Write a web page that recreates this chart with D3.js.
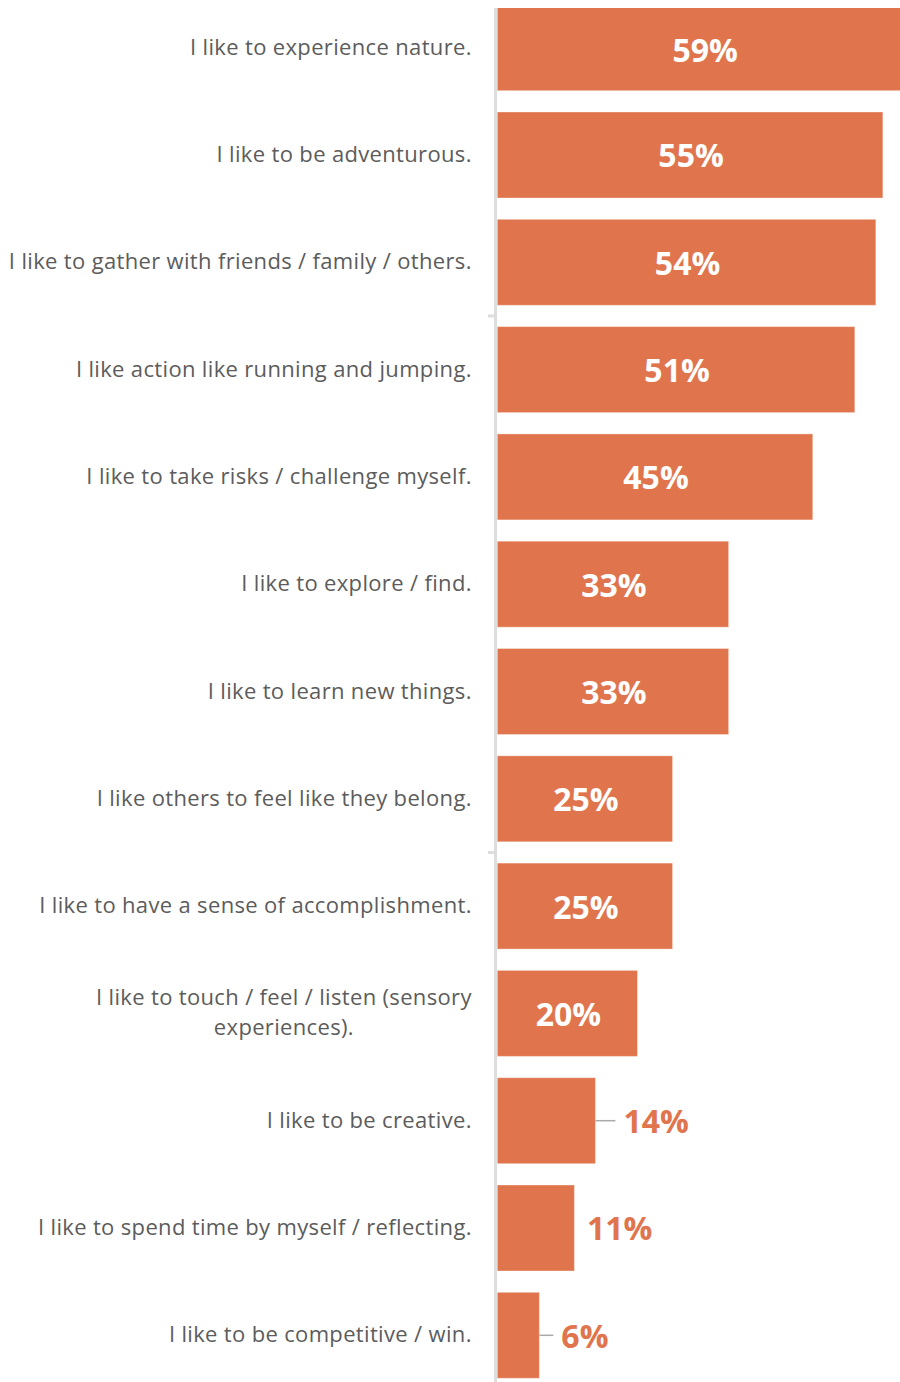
<!DOCTYPE html>
<html>
<head>
<meta charset="utf-8">
<script src="https://cdn.jsdelivr.net/npm/d3@7"></script>
<style>
html,body{margin:0;padding:0;background:#fff;overflow:hidden;}
svg{display:block;}
</style>
</head>
<body>
<svg id="chart" width="900" height="1382"></svg>
<script>
const categories = [
  "I like to experience nature.",
  "I like to be adventurous.",
  "I like to gather with friends / family / others.",
  "I like action like running and jumping.",
  "I like to take risks / challenge myself.",
  "I like to explore / find.",
  "I like to learn new things.",
  "I like others to feel like they belong.",
  "I like to have a sense of accomplishment.",
  "I like to touch / feel / listen (sensory|experiences).",
  "I like to be creative.",
  "I like to spend time by myself / reflecting.",
  "I like to be competitive / win."
];
const values = [59, 55, 54, 51, 45, 33, 33, 25, 25, 20, 14, 11, 6];
const valueLabels = ["59%","55%","54%","51%","45%","33%","33%","25%","25%","20%","14%","11%","6%"];

const W = 900, H = 1382;
const svg = d3.select("#chart");
const barColor = "#E0754D";
const font = "'Open Sans', 'Noto Sans', sans-serif";

// layout constants for outside labels (leader length, text gap) by row index
const outsideLayout = {10: {lead: 20, gap: 28}, 11: {lead: 0, gap: 12.5}, 12: {lead: 14, gap: 22}};

const x = d3.scaleLinear().domain([0, 100]).range([497.3, 1198.3]);
const y = d3.scaleBand().domain(categories).range([4.7, 1378.3]).paddingInner(0.1985).paddingOuter(0);

svg.append("defs").append("clipPath").attr("id", "plotclip")
  .append("rect").attr("x", 0).attr("y", 8).attr("width", W).attr("height", H - 8);

// axis line
svg.append("line")
  .attr("x1", 495.5).attr("x2", 495.5)
  .attr("y1", 8).attr("y2", H)
  .attr("stroke", "#dddddd").attr("stroke-width", 3);

// small ticks between groups
[2, 7].forEach(i => {
  const yy = (y(categories[i]) + y.bandwidth() + y(categories[i+1])) / 2;
  svg.append("line")
    .attr("x1", 488).attr("x2", 495)
    .attr("y1", yy).attr("y2", yy)
    .attr("stroke", "#dddddd").attr("stroke-width", 3);
});

const g = svg.append("g").attr("clip-path", "url(#plotclip)");
g.selectAll("rect.bar").data(categories).join("rect")
  .attr("class", "bar")
  .attr("x", x(0))
  .attr("y", d => y(d))
  .attr("width", (d, i) => x(values[i]) - x(0))
  .attr("height", y.bandwidth())
  .attr("fill", barColor)
  .attr("stroke", "rgba(255,255,255,0.35)")
  .attr("stroke-width", 1);

// value labels
categories.forEach((c, i) => {
  const top = Math.max(y(c), 8);
  const cy = (top + y(c) + y.bandwidth()) / 2;
  const v = values[i];
  if (v >= 20) {
    svg.append("text")
      .attr("x", (x(0) + x(v)) / 2 + 1)
      .attr("y", cy)
      .attr("dy", "0.39em")
      .attr("text-anchor", "middle")
      .attr("font-family", font)
      .attr("font-weight", 700)
      .attr("font-size", 32)
      .attr("fill", "#ffffff")
      .text(valueLabels[i]);
  } else {
    const lay = outsideLayout[i] || {lead: 20, gap: 28};
    if (lay.lead > 0) {
      svg.append("line")
        .attr("x1", x(v)).attr("x2", x(v) + lay.lead)
        .attr("y1", cy).attr("y2", cy)
        .attr("stroke", "#aaaaaa").attr("stroke-width", 1.5);
    }
    svg.append("text")
      .attr("x", x(v) + lay.gap)
      .attr("y", cy)
      .attr("dy", "0.39em")
      .attr("text-anchor", "start")
      .attr("font-family", font)
      .attr("font-weight", 700)
      .attr("font-size", 32)
      .attr("fill", barColor)
      .text(valueLabels[i]);
  }
});

// category labels
const labelSize = 22, labelLS = 0.34, labelX = 471.8;
categories.forEach((c, i) => {
  const cy = y(c) + y.bandwidth() / 2;
  const lines = c.split("|");
  const t = svg.append("text")
    .attr("font-family", font)
    .attr("font-size", labelSize)
    .attr("letter-spacing", labelLS)
    .attr("fill", "#5c5c5c");
  if (lines.length === 1) {
    t.attr("x", labelX).attr("y", cy + 7)
      .attr("text-anchor", "end").text(c);
  } else {
    const tmp = svg.append("text").attr("font-family", font).attr("font-size", labelSize)
      .attr("letter-spacing", labelLS).text(lines[0]);
    const w = tmp.node().getComputedTextLength();
    tmp.remove();
    const cx = labelX - w / 2;
    const lh = 30;
    t.attr("text-anchor", "middle");
    lines.forEach((ln, k) => {
      t.append("tspan")
        .attr("x", cx)
        .attr("y", cy + 7 + (k - (lines.length - 1) / 2) * lh)
        .text(ln);
    });
  }
});
</script>
</body>
</html>
